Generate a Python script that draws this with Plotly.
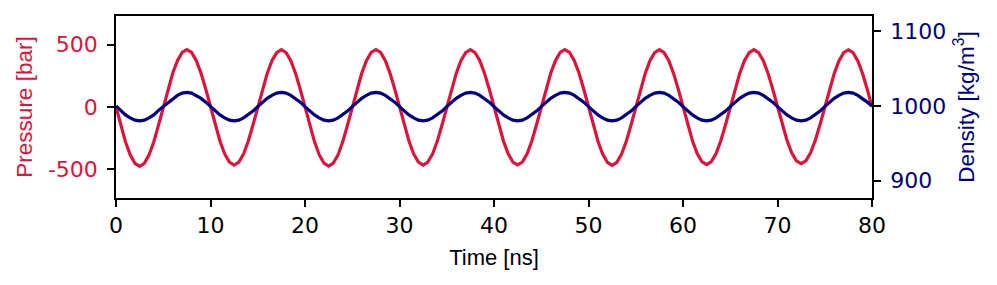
import plotly.graph_objects as go

# Time samples [ns]
time_ns = [
    0.0, 0.5, 1.0, 1.5, 2.0, 2.5, 3.0, 3.5, 4.0, 4.5, 5.0, 5.5, 6.0, 6.5, 7.0, 7.5, 8.0, 8.5, 9.0, 9.5,
    10.0, 10.5, 11.0, 11.5, 12.0, 12.5, 13.0, 13.5, 14.0, 14.5, 15.0, 15.5, 16.0, 16.5, 17.0, 17.5, 18.0, 18.5, 19.0, 19.5,
    20.0, 20.5, 21.0, 21.5, 22.0, 22.5, 23.0, 23.5, 24.0, 24.5, 25.0, 25.5, 26.0, 26.5, 27.0, 27.5, 28.0, 28.5, 29.0, 29.5,
    30.0, 30.5, 31.0, 31.5, 32.0, 32.5, 33.0, 33.5, 34.0, 34.5, 35.0, 35.5, 36.0, 36.5, 37.0, 37.5, 38.0, 38.5, 39.0, 39.5,
    40.0, 40.5, 41.0, 41.5, 42.0, 42.5, 43.0, 43.5, 44.0, 44.5, 45.0, 45.5, 46.0, 46.5, 47.0, 47.5, 48.0, 48.5, 49.0, 49.5,
    50.0, 50.5, 51.0, 51.5, 52.0, 52.5, 53.0, 53.5, 54.0, 54.5, 55.0, 55.5, 56.0, 56.5, 57.0, 57.5, 58.0, 58.5, 59.0, 59.5,
    60.0, 60.5, 61.0, 61.5, 62.0, 62.5, 63.0, 63.5, 64.0, 64.5, 65.0, 65.5, 66.0, 66.5, 67.0, 67.5, 68.0, 68.5, 69.0, 69.5,
    70.0, 70.5, 71.0, 71.5, 72.0, 72.5, 73.0, 73.5, 74.0, 74.5, 75.0, 75.5, 76.0, 76.5, 77.0, 77.5, 78.0, 78.5, 79.0, 79.5,
    80.0,
]

# Pressure [bar]
pressure_bar = [
    0, -146, -279, -384, -452, -476, -452, -384, -279, -146, 0, 142, 271, 373, 438, 461, 438, 373, 271, 142,
    0, -143, -273, -377, -443, -466, -443, -377, -273, -143, 0, 142, 270, 372, 437, 460, 437, 372, 270, 142,
    0, -145, -278, -383, -450, -474, -450, -383, -278, -145, 0, 143, 271, 373, 438, 461, 438, 373, 271, 143,
    0, -144, -274, -377, -443, -466, -443, -377, -274, -144, 0, 142, 270, 372, 437, 460, 437, 372, 270, 142,
    0, -143, -273, -376, -442, -465, -442, -376, -273, -143, 0, 142, 271, 373, 438, 461, 438, 373, 271, 142,
    0, -144, -275, -378, -445, -468, -445, -378, -275, -144, 0, 142, 270, 372, 437, 460, 437, 372, 270, 142,
    0, -142, -271, -374, -439, -462, -439, -374, -271, -142, 0, 142, 270, 372, 437, 460, 437, 372, 270, 142,
    0, -140, -267, -368, -432, -455, -432, -368, -267, -140, 0, 141, 269, 371, 436, 459, 436, 371, 269, 141,
    0,
]

# Density [kg/m^3]
density_kgm3 = [
    1000, 994, 988, 984, 981, 980, 981, 984, 988, 994, 999, 1005, 1010, 1014, 1017, 1018, 1017, 1014, 1010, 1005,
    999, 993, 988, 984, 981, 980, 981, 984, 988, 993, 999, 1005, 1010, 1014, 1017, 1018, 1017, 1014, 1010, 1005,
    999, 993, 988, 984, 981, 980, 981, 984, 988, 993, 999, 1005, 1010, 1014, 1017, 1018, 1017, 1014, 1010, 1005,
    999, 993, 988, 984, 981, 980, 981, 984, 988, 993, 999, 1005, 1010, 1014, 1017, 1018, 1017, 1014, 1010, 1005,
    999, 993, 988, 984, 981, 980, 981, 984, 988, 993, 999, 1005, 1010, 1014, 1017, 1018, 1017, 1014, 1010, 1005,
    999, 993, 988, 984, 981, 980, 981, 984, 988, 993, 999, 1005, 1010, 1014, 1017, 1018, 1017, 1014, 1010, 1005,
    999, 993, 988, 984, 981, 980, 981, 984, 988, 993, 999, 1005, 1010, 1014, 1017, 1018, 1017, 1014, 1010, 1005,
    999, 993, 988, 984, 981, 980, 981, 984, 988, 993, 999, 1005, 1010, 1014, 1017, 1018, 1017, 1014, 1010, 1005,
    1000,
]

x_ticks = [0, 10, 20, 30, 40, 50, 60, 70, 80]
p_ticks = [-500, 0, 500]
p_tick_text = ["-500", "0", "500"]
d_ticks = [900, 1000, 1100]

RED = "#DC143C"
NAVY = "#000080"
TICK_FONT = "DejaVu Sans"
TITLE_FONT = "Liberation Sans"

fig = go.Figure()
fig.add_trace(go.Scatter(x=time_ns, y=pressure_bar, mode="lines",
                         line=dict(color=RED, width=3.2), yaxis="y", showlegend=False))
fig.add_trace(go.Scatter(x=time_ns, y=density_kgm3, mode="lines",
                         line=dict(color=NAVY, width=3.2), yaxis="y2", showlegend=False))

fig.update_layout(
    width=997, height=285,
    margin=dict(l=116, r=125, t=16, b=87),
    paper_bgcolor="white", plot_bgcolor="white",
    xaxis=dict(
        range=[0, 80], tickvals=x_ticks, showgrid=False, zeroline=False,
        showline=True, linecolor="black", linewidth=1.5, mirror=True,
        ticks="outside", ticklen=7, tickwidth=1.5, tickcolor="black",
        tickfont=dict(family=TICK_FONT, size=22, color="black"),
        title=dict(text="Time [ns]", font=dict(family=TITLE_FONT, size=22, color="black"), standoff=12),
    ),
    yaxis=dict(
        range=[-731, 731], tickvals=p_ticks, ticktext=p_tick_text, showgrid=False, zeroline=False,
        showline=True, linecolor="black", linewidth=1.5,
        ticks="outside", ticklen=7, tickwidth=1.5, tickcolor="black", ticklabelstandoff=5,
        tickfont=dict(family=TICK_FONT, size=22, color=RED),
        title=dict(text="Pressure [bar]", font=dict(family=TITLE_FONT, size=22.5, color=RED), standoff=9),
    ),
    yaxis2=dict(
        range=[877, 1120], tickvals=d_ticks, overlaying="y", side="right",
        showgrid=False, zeroline=False,
        showline=True, linecolor="black", linewidth=1.5,
        ticks="outside", ticklen=7, tickwidth=1.5, tickcolor="black", ticklabelstandoff=5,
        tickfont=dict(family=TICK_FONT, size=22, color=NAVY),
        title=dict(text="Density [kg/m<sup>3</sup>]", font=dict(family=TITLE_FONT, size=22.5, color=NAVY), standoff=13),
    ),
)

fig.write_html("out.html", config={"displayModeBar": False})

# remove the default page margin so the figure sits at the window's top-left corner
with open("out.html", "r", encoding="utf-8") as fh:
    html = fh.read()
html = html.replace("<head>", "<head><style>html,body{margin:0;padding:0;}</style>", 1)
with open("out.html", "w", encoding="utf-8") as fh:
    fh.write(html)
